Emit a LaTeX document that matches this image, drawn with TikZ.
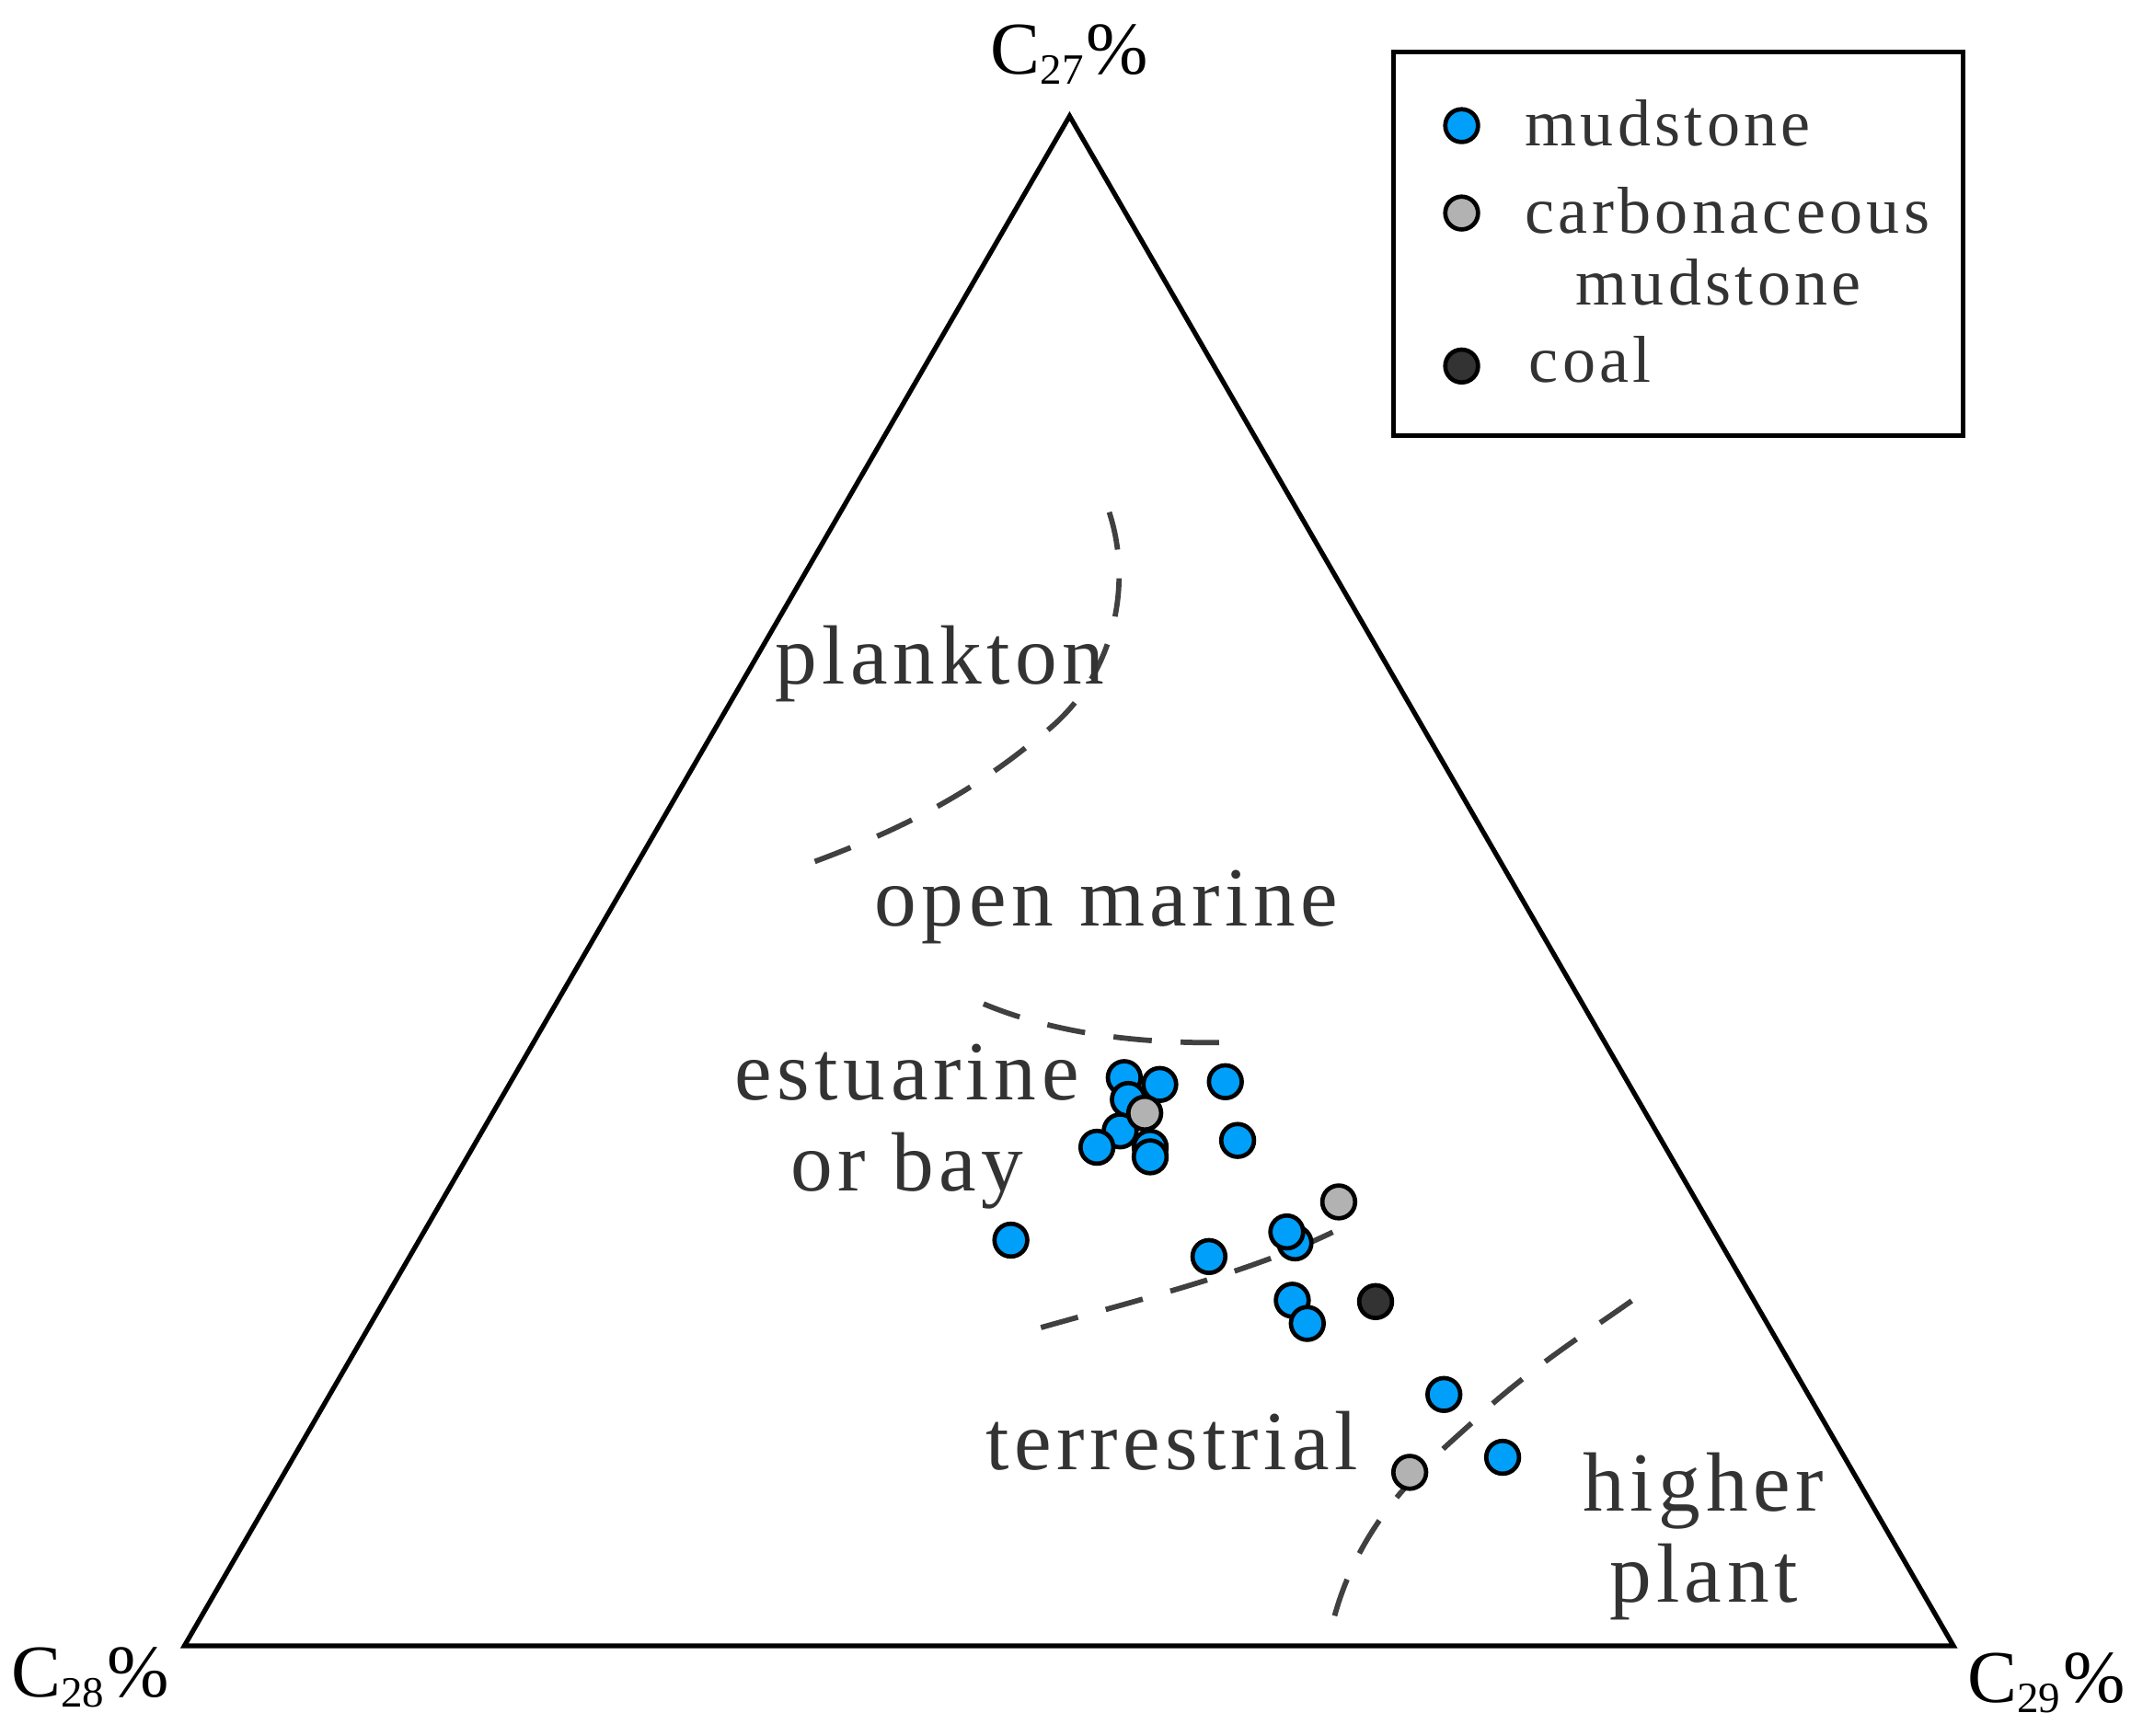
\documentclass[tikz,border=0pt]{standalone}
\usepackage{fontspec}
\setmainfont{Liberation Serif}
\newfontfamily\spaced[LetterSpace=6]{Liberation Serif}
\definecolor{mudc}{RGB}{0,160,250}
\begin{document}
\begin{tikzpicture}[x=0.01cm,y=-0.01cm,
 lab/.style={font=\spaced\fontsize{17.5}{21}\selectfont,text=black!80,align=center},
 leg/.style={font=\spaced\fontsize{13.8}{16}\selectfont,text=black!80,align=center},
 axl/.style={font=\fontsize{15.5}{18}\selectfont},
 dsh/.style={dashed,dash pattern=on 8pt off 6pt,line width=1.1pt,black!75},
 pt/.style={circle,draw=black,line width=0.9pt,minimum size=0.24cm,inner sep=0pt},
 mud/.style={pt,fill=mudc},
 car/.style={pt,fill=black!30},
 coal/.style={pt,fill=black!80}]
\useasboundingbox (0,0) rectangle (1560,1271);
\coordinate (T) at (783,85); \coordinate (L) at (135,1205); \coordinate (R) at (1430,1205);
\draw[line width=1pt,line join=miter] (T) -- (L) -- (R) -- cycle;
\node[axl] (a27) at (783,40) {C\textsubscript{\fontsize{9}{11}\selectfont 27}\%};
\node[axl] (a28) at (66,1228) {C\textsubscript{\fontsize{9}{11}\selectfont 28}\%};
\node[axl] (a29) at (1498,1232) {C\textsubscript{\fontsize{9}{11}\selectfont 29}\%};
% dashed boundaries
\draw[dsh] (812,375) .. controls (830,430) and (815,500) .. (760,540) .. controls (700,590) and (640,615) .. (585,635);
\draw[dsh] (720,735) .. controls (780,760) and (850,765) .. (910,763);
\draw[dsh] (762,972) .. controls (840,950) and (920,930) .. (980,900);
\draw[dsh] (977,1183) .. controls (1000,1100) and (1060,1060) .. (1090,1030) .. controls (1130,995) and (1170,970) .. (1195,952);
% labels
\node[lab] (pl) at (688,486) {plankton};
\node[lab] (om) at (810,664) {open marine};
\node[lab] (es) at (664,825) {estuarine\\[-2pt]or bay};
\node[lab] (te) at (858,1055) {terrestrial};
\node[lab] (hp) at (1247,1125) {higher\\[-2pt]plant};
% points
\foreach \n/\x/\y in {m1/823/789,m2/849/794,m3/897/792,m4/826/805,m5/820/828,m6/803/840,m7/842/840,m8/842/847,m9/906/835,m10/740/908,m11/885/920,m12/948/910,m13/942/902,m14/946/952,m15/957/969,m16/1057/1021,m17/1100/1067}
  \node[mud] (\n) at (\x,\y) {};
\node[car] (c1) at (838,815) {};
\node[car] (c2) at (980,880) {};
\node[car] (c3) at (1032,1078) {};
\node[coal] (k1) at (1007,953) {};
% legend
\draw[line width=1pt] (1020,38) rectangle (1437,319);
\node[mud] (lm) at (1070,92) {};
\node[car] (lc) at (1070,156) {};
\node[coal] (lk) at (1070,268) {};
\node[leg,anchor=west] (t1) at (1104,90) {mudstone};
\node[leg,anchor=west] (t2) at (1104,154) {carbonaceous};
\node[leg] (t3) at (1258,207) {mudstone};
\node[leg,anchor=west] (t4) at (1107,263) {coal};
\end{tikzpicture}
\end{document}
